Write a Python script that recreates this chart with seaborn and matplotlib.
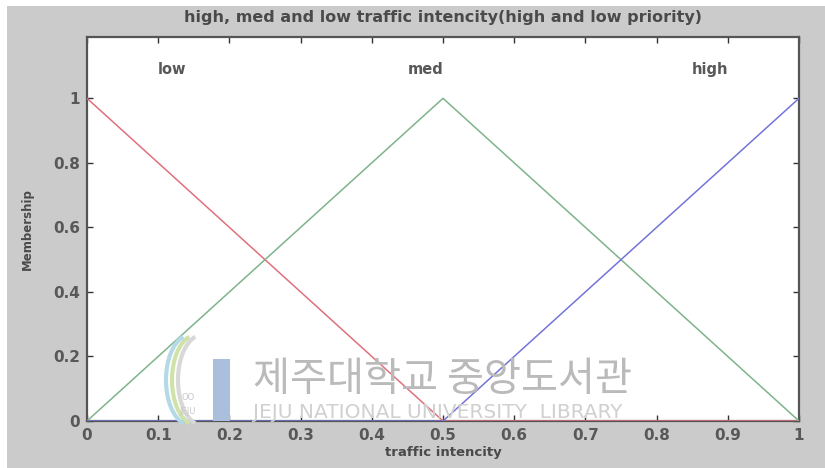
import matplotlib
matplotlib.use("Agg")
import matplotlib.pyplot as plt
import matplotlib.patches as mpatches
import numpy as np
import pandas as pd
import seaborn as sns

# Triangular membership functions for traffic intensity
x_points = [0.0, 0.5, 1.0]
low_mf = [1.0, 0.0, 0.0]
med_mf = [0.0, 1.0, 0.0]
high_mf = [0.0, 0.0, 1.0]
set_names = ["low", "med", "high"]
label_x = [0.12, 0.476, 0.875]
label_y = 1.09

x_ticks = [0, 0.1, 0.2, 0.3, 0.4, 0.5, 0.6, 0.7, 0.8, 0.9, 1]
x_tick_labels = ["0", "0.1", "0.2", "0.3", "0.4", "0.5", "0.6", "0.7", "0.8", "0.9", "1"]
y_ticks = [0, 0.2, 0.4, 0.6, 0.8, 1]
y_tick_labels = ["0", "0.2", "0.4", "0.6", "0.8", "1"]

df = pd.DataFrame({
    "x": x_points * 3,
    "membership": low_mf + med_mf + high_mf,
    "set": [s for s in set_names for _ in x_points],
})

sns.set_theme(style="white")
plt.rcParams["font.family"] = ["DejaVu Sans"]

W, H = 825, 468
fig = plt.figure(figsize=(W / 100, H / 100), dpi=100, facecolor="white")

# grey window background with a thin white margin on top and left
fig.patches.append(mpatches.Rectangle((7 / W, 0), 1, 1 - 6 / H, transform=fig.transFigure,
                                      facecolor="#cbcbcb", edgecolor="none", zorder=-10))

ax_l, ax_r, ax_t, ax_b = 87, 799, 37, 421
ax = fig.add_axes([ax_l / W, 1 - ax_b / H, (ax_r - ax_l) / W, (ax_b - ax_t) / H])
ax.set_facecolor("white")

palette = {"low": "#e0707c", "med": "#7fb38a", "high": "#7474d8"}
sns.lineplot(data=df, x="x", y="membership", hue="set", palette=palette,
             estimator=None, legend=False, linewidth=1.1, ax=ax, zorder=3)

ax.set_xlim(0, 1)
ax.set_ylim(0, 1.19)
ax.set_xticks(x_ticks)
ax.set_xticklabels(x_tick_labels)
ax.set_yticks(y_ticks)
ax.set_yticklabels(y_tick_labels)

text_col = "#585858"
ax.tick_params(direction="in", length=4, width=1, colors="#333333",
               top=True, right=True, bottom=True, left=True,
               labelsize=11, labelcolor=text_col, pad=5)
for lbl in ax.get_xticklabels() + ax.get_yticklabels():
    lbl.set_fontweight("bold")
for sp in ax.spines.values():
    sp.set_visible(True)
    sp.set_color("#555555")
    sp.set_linewidth(1.6)

ax.set_xlabel("traffic intencity", fontsize=9.5, fontweight="bold", color="#4a4a4a", labelpad=2)
ax.set_ylabel("Membership", fontsize=8.5, fontweight="bold", color="#4a4a4a", labelpad=14)
ax.set_title("high, med and low traffic intencity(high and low priority)",
             fontsize=11.5, fontweight="bold", color="#4a4a4a", pad=11)

for name, lx in zip(set_names, label_x):
    ax.text(lx, label_y, name, ha="center", va="center", fontsize=10.5,
            fontweight="bold", color=text_col)

# library watermark
def px(x, y):
    return x / W, 1 - y / H

fig.text(*px(253, 380), "제주대학교 중앙도서관", fontsize=29, color="#bababa",
         family=["Noto Sans CJK KR", "DejaVu Sans"], ha="left", va="center", zorder=1)
fig.text(*px(253, 413), "JEJU NATIONAL UNIVERSITY  LIBRARY", fontsize=14.5, color="#d0d0d0",
         ha="left", va="center", zorder=1)
fig.patches.append(mpatches.Rectangle(px(213, 421), 17 / W, 62 / H, transform=fig.transFigure,
                                      facecolor="#a9bfdc", edgecolor="none", zorder=1))
for cx, col in [(196, "#cfe3a8"), (190, "#b5d9e6"), (202, "#d8d8d8")]:
    fig.patches.append(mpatches.Arc(px(cx, 380), 48 / W, 90 / H, theta1=95, theta2=265,
                                    transform=fig.transFigure, color=col, linewidth=3, zorder=1))
fig.text(*px(188, 398), "OO", fontsize=6, color="#c8c8c8", ha="center", va="center")
fig.text(*px(188, 412), "JEJU", fontsize=6, color="#c8c8c8", ha="center", va="center")

fig.savefig("out.png", dpi=100, facecolor=fig.get_facecolor())
